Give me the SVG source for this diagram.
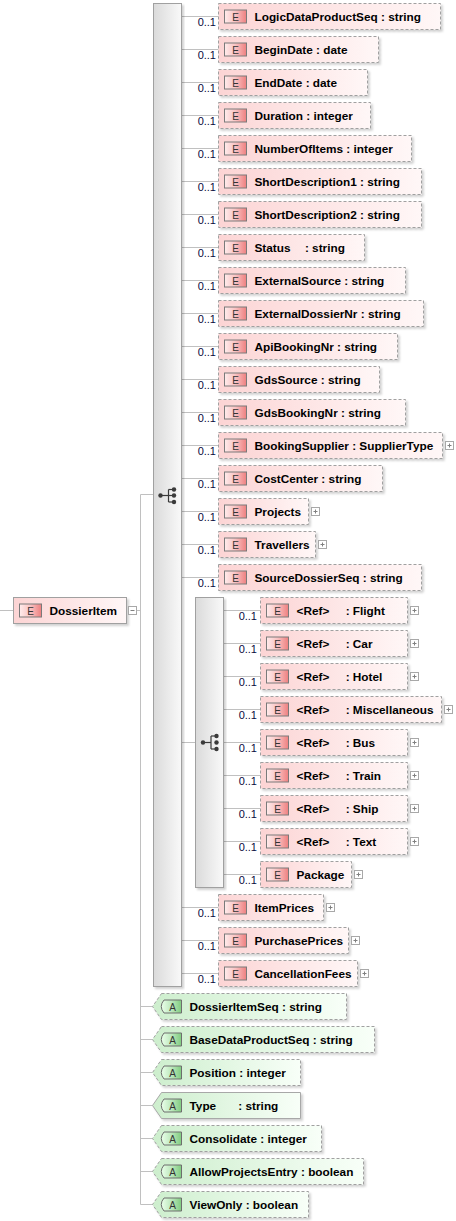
<svg xmlns="http://www.w3.org/2000/svg" width="456" height="1221" viewBox="0 0 456 1221">
<defs>
<linearGradient id="gE" x1="0" y1="0" x2="1" y2="0"><stop offset="0" stop-color="#fcd4d4"/><stop offset="1" stop-color="#fff7f7"/></linearGradient>
<linearGradient id="gA" x1="0" y1="0" x2="1" y2="0"><stop offset="0" stop-color="#cdeecd"/><stop offset="1" stop-color="#f8fff8"/></linearGradient>
<linearGradient id="gEi" x1="0" y1="0" x2="1" y2="0"><stop offset="0" stop-color="#ffecec"/><stop offset="0.5" stop-color="#f9c2c2"/><stop offset="1" stop-color="#ee7f7f"/></linearGradient>
<linearGradient id="gAi" x1="0" y1="0" x2="1" y2="0"><stop offset="0" stop-color="#eaffea"/><stop offset="0.5" stop-color="#bde8bd"/><stop offset="1" stop-color="#7fcc7f"/></linearGradient>
<linearGradient id="gS" x1="0" y1="0" x2="1" y2="0"><stop offset="0" stop-color="#dadada"/><stop offset="1" stop-color="#f9f9f9"/></linearGradient>
<filter id="sh" x="-5%" y="-10%" width="115%" height="135%"><feDropShadow dx="2" dy="2" stdDeviation="1" flood-color="#000" flood-opacity="0.18"/></filter>
</defs>
<style>
.c{stroke:#c0c0c0;stroke-width:1;fill:none}
.eb{fill:url(#gE);stroke:#a0a0a0;stroke-dasharray:3,2;filter:url(#sh)}
.es{fill:url(#gE);stroke:#a0a0a0;filter:url(#sh)}
.ab{fill:url(#gA);stroke:#a0a0a0;stroke-dasharray:3,2;filter:url(#sh)}
.as{fill:url(#gA);stroke:#a8a8a8;filter:url(#sh)}
.ei{fill:url(#gEi);stroke:#7a7a7a}
.ai{fill:url(#gAi);stroke:#6e6e6e}
.t{font-family:"Liberation Sans",Arial,sans-serif;font-weight:bold;font-size:11.8px;fill:#000}
.it{font-family:"Liberation Sans",Arial,sans-serif;font-size:10px;fill:#333;text-anchor:middle}
.m{font-family:"Liberation Sans",Arial,sans-serif;font-size:11px;fill:#0a0a40;text-anchor:end}
.pb{fill:#fff;stroke:#a8a8a8}
.pl{stroke:#808080;stroke-width:1}
.sq{fill:url(#gS);stroke:#a0a0a0;filter:url(#sh)}
.sy{stroke:#3a3a3a;stroke-width:1.2;fill:none}
.sd{fill:#3a3a3a}
</style>

<g id="connectors">
<line class="c" x1="0" y1="610.5" x2="13.5" y2="610.5"/>
<line class="c" x1="136.5" y1="610.5" x2="140.5" y2="610.5"/>
<line class="c" x1="140.5" y1="494.5" x2="140.5" y2="1204.5"/>
<line class="c" x1="140.5" y1="494.5" x2="153.5" y2="494.5"/>
<line class="c" x1="181.5" y1="16.5" x2="218.5" y2="16.5"/>
<line class="c" x1="181.5" y1="49.5" x2="218.5" y2="49.5"/>
<line class="c" x1="181.5" y1="82.5" x2="218.5" y2="82.5"/>
<line class="c" x1="181.5" y1="115.5" x2="218.5" y2="115.5"/>
<line class="c" x1="181.5" y1="148.5" x2="218.5" y2="148.5"/>
<line class="c" x1="181.5" y1="181.5" x2="218.5" y2="181.5"/>
<line class="c" x1="181.5" y1="214.5" x2="218.5" y2="214.5"/>
<line class="c" x1="181.5" y1="247.5" x2="218.5" y2="247.5"/>
<line class="c" x1="181.5" y1="280.5" x2="218.5" y2="280.5"/>
<line class="c" x1="181.5" y1="313.5" x2="218.5" y2="313.5"/>
<line class="c" x1="181.5" y1="346.5" x2="218.5" y2="346.5"/>
<line class="c" x1="181.5" y1="379.5" x2="218.5" y2="379.5"/>
<line class="c" x1="181.5" y1="412.5" x2="218.5" y2="412.5"/>
<line class="c" x1="181.5" y1="445.5" x2="218.5" y2="445.5"/>
<line class="c" x1="181.5" y1="478.5" x2="218.5" y2="478.5"/>
<line class="c" x1="181.5" y1="511.5" x2="218.5" y2="511.5"/>
<line class="c" x1="181.5" y1="544.5" x2="218.5" y2="544.5"/>
<line class="c" x1="181.5" y1="577.5" x2="218.5" y2="577.5"/>
<line class="c" x1="181.5" y1="742.5" x2="195.5" y2="742.5"/>
<line class="c" x1="181.5" y1="907.5" x2="218.5" y2="907.5"/>
<line class="c" x1="181.5" y1="940.5" x2="218.5" y2="940.5"/>
<line class="c" x1="181.5" y1="973.5" x2="218.5" y2="973.5"/>
<line class="c" x1="223.5" y1="610.5" x2="260.5" y2="610.5"/>
<line class="c" x1="223.5" y1="643.5" x2="260.5" y2="643.5"/>
<line class="c" x1="223.5" y1="676.5" x2="260.5" y2="676.5"/>
<line class="c" x1="223.5" y1="709.5" x2="260.5" y2="709.5"/>
<line class="c" x1="223.5" y1="742.5" x2="260.5" y2="742.5"/>
<line class="c" x1="223.5" y1="775.5" x2="260.5" y2="775.5"/>
<line class="c" x1="223.5" y1="808.5" x2="260.5" y2="808.5"/>
<line class="c" x1="223.5" y1="841.5" x2="260.5" y2="841.5"/>
<line class="c" x1="223.5" y1="874.5" x2="260.5" y2="874.5"/>
<line class="c" x1="140.5" y1="1006.5" x2="152.5" y2="1006.5"/>
<line class="c" x1="140.5" y1="1039.5" x2="152.5" y2="1039.5"/>
<line class="c" x1="140.5" y1="1072.5" x2="152.5" y2="1072.5"/>
<line class="c" x1="140.5" y1="1105.5" x2="152.5" y2="1105.5"/>
<line class="c" x1="140.5" y1="1138.5" x2="152.5" y2="1138.5"/>
<line class="c" x1="140.5" y1="1171.5" x2="152.5" y2="1171.5"/>
<line class="c" x1="140.5" y1="1204.5" x2="152.5" y2="1204.5"/>
</g>

<g id="DossierItem">
<rect class="es" x="13.5" y="597.5" width="113" height="26"/>
<rect class="ei" x="19.5" y="604" width="22" height="13"/>
<text class="it" x="30.5" y="614.5">E</text>
<text class="t" x="49.5" y="615">DossierItem</text>
<rect class="pb" x="128.5" y="606.5" width="8" height="8"/>
<line class="pl" x1="130.5" y1="610.5" x2="134.5" y2="610.5"/>
</g>

<g id="sequence-outer">
<rect class="sq" x="153.5" y="3.5" width="28" height="983"/>
<line class="sy" x1="160.5" y1="495.5" x2="168.5" y2="495.5"/>
<line class="sy" x1="168.5" y1="489.5" x2="168.5" y2="502"/>
<line class="sy" x1="168.5" y1="489.5" x2="173.5" y2="489.5"/>
<line class="sy" x1="168.5" y1="502" x2="173.5" y2="502"/>
<line class="sy" x1="168.5" y1="495.5" x2="173.5" y2="495.5"/>
<circle class="sd" cx="160.5" cy="495.5" r="2.2"/>
<circle class="sd" cx="174" cy="489.5" r="2.2"/>
<circle class="sd" cx="174" cy="495.5" r="2.2"/>
<circle class="sd" cx="174" cy="502" r="2.2"/>
</g>

<g id="LogicDataProductSeq"><text class="m" x="216" y="26">0..1</text><rect class="eb" x="218.5" y="3.5" width="222" height="26"/><rect class="ei" x="224.5" y="10" width="22" height="13"/><text class="it" x="235.5" y="20.5">E</text><text class="t" x="254.5" y="21">LogicDataProductSeq : string</text></g>
<g id="BeginDate"><text class="m" x="216" y="59">0..1</text><rect class="eb" x="218.5" y="36.5" width="160" height="26"/><rect class="ei" x="224.5" y="43" width="22" height="13"/><text class="it" x="235.5" y="53.5">E</text><text class="t" x="254.5" y="54">BeginDate : date</text></g>
<g id="EndDate"><text class="m" x="216" y="92">0..1</text><rect class="eb" x="218.5" y="69.5" width="149" height="26"/><rect class="ei" x="224.5" y="76" width="22" height="13"/><text class="it" x="235.5" y="86.5">E</text><text class="t" x="254.5" y="87">EndDate : date</text></g>
<g id="Duration"><text class="m" x="216" y="125">0..1</text><rect class="eb" x="218.5" y="102.5" width="152" height="26"/><rect class="ei" x="224.5" y="109" width="22" height="13"/><text class="it" x="235.5" y="119.5">E</text><text class="t" x="254.5" y="120">Duration : integer</text></g>
<g id="NumberOfItems"><text class="m" x="216" y="158">0..1</text><rect class="eb" x="218.5" y="135.5" width="193" height="26"/><rect class="ei" x="224.5" y="142" width="22" height="13"/><text class="it" x="235.5" y="152.5">E</text><text class="t" x="254.5" y="153">NumberOfItems : integer</text></g>
<g id="ShortDescription1"><text class="m" x="216" y="191">0..1</text><rect class="eb" x="218.5" y="168.5" width="203" height="26"/><rect class="ei" x="224.5" y="175" width="22" height="13"/><text class="it" x="235.5" y="185.5">E</text><text class="t" x="254.5" y="186">ShortDescription1 : string</text></g>
<g id="ShortDescription2"><text class="m" x="216" y="224">0..1</text><rect class="eb" x="218.5" y="201.5" width="203" height="26"/><rect class="ei" x="224.5" y="208" width="22" height="13"/><text class="it" x="235.5" y="218.5">E</text><text class="t" x="254.5" y="219">ShortDescription2 : string</text></g>
<g id="Status"><text class="m" x="216" y="257">0..1</text><rect class="eb" x="218.5" y="234.5" width="146" height="26"/><rect class="ei" x="224.5" y="241" width="22" height="13"/><text class="it" x="235.5" y="251.5">E</text><text class="t" x="254.5" y="252" xml:space="preserve" style="white-space:pre">Status   <tspan dx="4.5">: string</tspan></text></g>
<g id="ExternalSource"><text class="m" x="216" y="290">0..1</text><rect class="eb" x="218.5" y="267.5" width="187" height="26"/><rect class="ei" x="224.5" y="274" width="22" height="13"/><text class="it" x="235.5" y="284.5">E</text><text class="t" x="254.5" y="285">ExternalSource : string</text></g>
<g id="ExternalDossierNr"><text class="m" x="216" y="323">0..1</text><rect class="eb" x="218.5" y="300.5" width="205" height="26"/><rect class="ei" x="224.5" y="307" width="22" height="13"/><text class="it" x="235.5" y="317.5">E</text><text class="t" x="254.5" y="318">ExternalDossierNr : string</text></g>
<g id="ApiBookingNr"><text class="m" x="216" y="356">0..1</text><rect class="eb" x="218.5" y="333.5" width="179" height="26"/><rect class="ei" x="224.5" y="340" width="22" height="13"/><text class="it" x="235.5" y="350.5">E</text><text class="t" x="254.5" y="351">ApiBookingNr : string</text></g>
<g id="GdsSource"><text class="m" x="216" y="389">0..1</text><rect class="eb" x="218.5" y="366.5" width="161" height="26"/><rect class="ei" x="224.5" y="373" width="22" height="13"/><text class="it" x="235.5" y="383.5">E</text><text class="t" x="254.5" y="384">GdsSource : string</text></g>
<g id="GdsBookingNr"><text class="m" x="216" y="422">0..1</text><rect class="eb" x="218.5" y="399.5" width="187" height="26"/><rect class="ei" x="224.5" y="406" width="22" height="13"/><text class="it" x="235.5" y="416.5">E</text><text class="t" x="254.5" y="417">GdsBookingNr : string</text></g>
<g id="BookingSupplier"><text class="m" x="216" y="455">0..1</text><rect class="eb" x="218.5" y="432.5" width="224" height="26"/><rect class="ei" x="224.5" y="439" width="22" height="13"/><text class="it" x="235.5" y="449.5">E</text><text class="t" x="254.5" y="450">BookingSupplier : SupplierType</text><rect class="pb" x="445.5" y="441.5" width="8" height="8"/><line class="pl" x1="447.5" y1="445.5" x2="451.5" y2="445.5"/><line class="pl" x1="449.5" y1="443.5" x2="449.5" y2="447.5"/></g>
<g id="CostCenter"><text class="m" x="216" y="488">0..1</text><rect class="eb" x="218.5" y="465.5" width="164" height="26"/><rect class="ei" x="224.5" y="472" width="22" height="13"/><text class="it" x="235.5" y="482.5">E</text><text class="t" x="254.5" y="483">CostCenter : string</text></g>
<g id="Projects"><text class="m" x="216" y="521">0..1</text><rect class="eb" x="218.5" y="498.5" width="90" height="26"/><rect class="ei" x="224.5" y="505" width="22" height="13"/><text class="it" x="235.5" y="515.5">E</text><text class="t" x="254.5" y="516">Projects</text><rect class="pb" x="311.5" y="507.5" width="8" height="8"/><line class="pl" x1="313.5" y1="511.5" x2="317.5" y2="511.5"/><line class="pl" x1="315.5" y1="509.5" x2="315.5" y2="513.5"/></g>
<g id="Travellers"><text class="m" x="216" y="554">0..1</text><rect class="eb" x="218.5" y="531.5" width="97" height="26"/><rect class="ei" x="224.5" y="538" width="22" height="13"/><text class="it" x="235.5" y="548.5">E</text><text class="t" x="254.5" y="549">Travellers</text><rect class="pb" x="318.5" y="540.5" width="8" height="8"/><line class="pl" x1="320.5" y1="544.5" x2="324.5" y2="544.5"/><line class="pl" x1="322.5" y1="542.5" x2="322.5" y2="546.5"/></g>
<g id="SourceDossierSeq"><text class="m" x="216" y="587">0..1</text><rect class="eb" x="218.5" y="564.5" width="203" height="26"/><rect class="ei" x="224.5" y="571" width="22" height="13"/><text class="it" x="235.5" y="581.5">E</text><text class="t" x="254.5" y="582">SourceDossierSeq : string</text></g>

<g id="sequence-inner">
<rect class="sq" x="195.5" y="597.5" width="28" height="290"/>
<line class="sy" x1="203" y1="742.5" x2="211" y2="742.5"/>
<line class="sy" x1="211" y1="736" x2="211" y2="749"/>
<line class="sy" x1="211" y1="736" x2="216" y2="736"/>
<line class="sy" x1="211" y1="749" x2="216" y2="749"/>
<circle class="sd" cx="203" cy="742.5" r="2.2"/>
<circle class="sd" cx="216.5" cy="736" r="2.2"/>
<circle class="sd" cx="216.5" cy="742.5" r="2.2"/>
<circle class="sd" cx="216.5" cy="749" r="2.2"/>
</g>

<g id="Flight"><text class="m" x="257" y="620">0..1</text><rect class="eb" x="260.5" y="597.5" width="147" height="26"/><rect class="ei" x="266.5" y="604" width="22" height="13"/><text class="it" x="277.5" y="614.5">E</text><text class="t" x="296.5" y="615" xml:space="preserve" style="white-space:pre">&lt;Ref&gt;   <tspan dx="6.5">: Flight</tspan></text><rect class="pb" x="410.5" y="606.5" width="8" height="8"/><line class="pl" x1="412.5" y1="610.5" x2="416.5" y2="610.5"/><line class="pl" x1="414.5" y1="608.5" x2="414.5" y2="612.5"/></g>
<g id="Car"><text class="m" x="257" y="653">0..1</text><rect class="eb" x="260.5" y="630.5" width="147" height="26"/><rect class="ei" x="266.5" y="637" width="22" height="13"/><text class="it" x="277.5" y="647.5">E</text><text class="t" x="296.5" y="648" xml:space="preserve" style="white-space:pre">&lt;Ref&gt;   <tspan dx="6.5">: Car</tspan></text><rect class="pb" x="410.5" y="639.5" width="8" height="8"/><line class="pl" x1="412.5" y1="643.5" x2="416.5" y2="643.5"/><line class="pl" x1="414.5" y1="641.5" x2="414.5" y2="645.5"/></g>
<g id="Hotel"><text class="m" x="257" y="686">0..1</text><rect class="eb" x="260.5" y="663.5" width="147" height="26"/><rect class="ei" x="266.5" y="670" width="22" height="13"/><text class="it" x="277.5" y="680.5">E</text><text class="t" x="296.5" y="681" xml:space="preserve" style="white-space:pre">&lt;Ref&gt;   <tspan dx="6.5">: Hotel</tspan></text><rect class="pb" x="410.5" y="672.5" width="8" height="8"/><line class="pl" x1="412.5" y1="676.5" x2="416.5" y2="676.5"/><line class="pl" x1="414.5" y1="674.5" x2="414.5" y2="678.5"/></g>
<g id="Miscellaneous"><text class="m" x="257" y="719">0..1</text><rect class="eb" x="260.5" y="696.5" width="181" height="26"/><rect class="ei" x="266.5" y="703" width="22" height="13"/><text class="it" x="277.5" y="713.5">E</text><text class="t" x="296.5" y="714" xml:space="preserve" style="white-space:pre">&lt;Ref&gt;   <tspan dx="6.5">: Miscellaneous</tspan></text><rect class="pb" x="444.5" y="705.5" width="8" height="8"/><line class="pl" x1="446.5" y1="709.5" x2="450.5" y2="709.5"/><line class="pl" x1="448.5" y1="707.5" x2="448.5" y2="711.5"/></g>
<g id="Bus"><text class="m" x="257" y="752">0..1</text><rect class="eb" x="260.5" y="729.5" width="147" height="26"/><rect class="ei" x="266.5" y="736" width="22" height="13"/><text class="it" x="277.5" y="746.5">E</text><text class="t" x="296.5" y="747" xml:space="preserve" style="white-space:pre">&lt;Ref&gt;   <tspan dx="6.5">: Bus</tspan></text><rect class="pb" x="410.5" y="738.5" width="8" height="8"/><line class="pl" x1="412.5" y1="742.5" x2="416.5" y2="742.5"/><line class="pl" x1="414.5" y1="740.5" x2="414.5" y2="744.5"/></g>
<g id="Train"><text class="m" x="257" y="785">0..1</text><rect class="eb" x="260.5" y="762.5" width="147" height="26"/><rect class="ei" x="266.5" y="769" width="22" height="13"/><text class="it" x="277.5" y="779.5">E</text><text class="t" x="296.5" y="780" xml:space="preserve" style="white-space:pre">&lt;Ref&gt;   <tspan dx="6.5">: Train</tspan></text><rect class="pb" x="410.5" y="771.5" width="8" height="8"/><line class="pl" x1="412.5" y1="775.5" x2="416.5" y2="775.5"/><line class="pl" x1="414.5" y1="773.5" x2="414.5" y2="777.5"/></g>
<g id="Ship"><text class="m" x="257" y="818">0..1</text><rect class="eb" x="260.5" y="795.5" width="147" height="26"/><rect class="ei" x="266.5" y="802" width="22" height="13"/><text class="it" x="277.5" y="812.5">E</text><text class="t" x="296.5" y="813" xml:space="preserve" style="white-space:pre">&lt;Ref&gt;   <tspan dx="6.5">: Ship</tspan></text><rect class="pb" x="410.5" y="804.5" width="8" height="8"/><line class="pl" x1="412.5" y1="808.5" x2="416.5" y2="808.5"/><line class="pl" x1="414.5" y1="806.5" x2="414.5" y2="810.5"/></g>
<g id="Text"><text class="m" x="257" y="851">0..1</text><rect class="eb" x="260.5" y="828.5" width="147" height="26"/><rect class="ei" x="266.5" y="835" width="22" height="13"/><text class="it" x="277.5" y="845.5">E</text><text class="t" x="296.5" y="846" xml:space="preserve" style="white-space:pre">&lt;Ref&gt;   <tspan dx="6.5">: Text</tspan></text><rect class="pb" x="410.5" y="837.5" width="8" height="8"/><line class="pl" x1="412.5" y1="841.5" x2="416.5" y2="841.5"/><line class="pl" x1="414.5" y1="839.5" x2="414.5" y2="843.5"/></g>
<g id="Package"><text class="m" x="257" y="884">0..1</text><rect class="eb" x="260.5" y="861.5" width="91" height="26"/><rect class="ei" x="266.5" y="868" width="22" height="13"/><text class="it" x="277.5" y="878.5">E</text><text class="t" x="296.5" y="879">Package</text><rect class="pb" x="354.5" y="870.5" width="8" height="8"/><line class="pl" x1="356.5" y1="874.5" x2="360.5" y2="874.5"/><line class="pl" x1="358.5" y1="872.5" x2="358.5" y2="876.5"/></g>

<g id="ItemPrices"><text class="m" x="216" y="917">0..1</text><rect class="eb" x="218.5" y="894.5" width="105" height="26"/><rect class="ei" x="224.5" y="901" width="22" height="13"/><text class="it" x="235.5" y="911.5">E</text><text class="t" x="254.5" y="912">ItemPrices</text><rect class="pb" x="326.5" y="903.5" width="8" height="8"/><line class="pl" x1="328.5" y1="907.5" x2="332.5" y2="907.5"/><line class="pl" x1="330.5" y1="905.5" x2="330.5" y2="909.5"/></g>
<g id="PurchasePrices"><text class="m" x="216" y="950">0..1</text><rect class="eb" x="218.5" y="927.5" width="130" height="26"/><rect class="ei" x="224.5" y="934" width="22" height="13"/><text class="it" x="235.5" y="944.5">E</text><text class="t" x="254.5" y="945">PurchasePrices</text><rect class="pb" x="351.5" y="936.5" width="8" height="8"/><line class="pl" x1="353.5" y1="940.5" x2="357.5" y2="940.5"/><line class="pl" x1="355.5" y1="938.5" x2="355.5" y2="942.5"/></g>
<g id="CancellationFees"><text class="m" x="216" y="983">0..1</text><rect class="eb" x="218.5" y="960.5" width="139" height="26"/><rect class="ei" x="224.5" y="967" width="22" height="13"/><text class="it" x="235.5" y="977.5">E</text><text class="t" x="254.5" y="978">CancellationFees</text><rect class="pb" x="360.5" y="969.5" width="8" height="8"/><line class="pl" x1="362.5" y1="973.5" x2="366.5" y2="973.5"/><line class="pl" x1="364.5" y1="971.5" x2="364.5" y2="975.5"/></g>

<g id="attr-DossierItemSeq"><path class="ab" d="M161.5,993.5 H346.5 V1019.5 H161.5 L152.5,1006.5 Z"/><path class="ai" d="M164,1000 H181.5 V1013 H164 Q158.5,1006.5 164,1000 Z"/><text class="it" x="172.5" y="1010.5">A</text><text class="t" x="189.5" y="1011">DossierItemSeq : string</text></g>
<g id="attr-BaseDataProductSeq"><path class="ab" d="M161.5,1026.5 H374.5 V1052.5 H161.5 L152.5,1039.5 Z"/><path class="ai" d="M164,1033 H181.5 V1046 H164 Q158.5,1039.5 164,1033 Z"/><text class="it" x="172.5" y="1043.5">A</text><text class="t" x="189.5" y="1044">BaseDataProductSeq : string</text></g>
<g id="attr-Position"><path class="ab" d="M161.5,1059.5 H300.5 V1085.5 H161.5 L152.5,1072.5 Z"/><path class="ai" d="M164,1066 H181.5 V1079 H164 Q158.5,1072.5 164,1066 Z"/><text class="it" x="172.5" y="1076.5">A</text><text class="t" x="189.5" y="1077">Position : integer</text></g>
<g id="attr-Type"><path class="as" d="M161.5,1092.5 H300.5 V1118.5 H161.5 L152.5,1105.5 Z"/><path class="ai" d="M164,1099 H181.5 V1112 H164 Q158.5,1105.5 164,1099 Z"/><text class="it" x="172.5" y="1109.5">A</text><text class="t" x="189.5" y="1110" xml:space="preserve" style="white-space:pre">Type      <tspan dx="2.5">: string</tspan></text></g>
<g id="attr-Consolidate"><path class="ab" d="M161.5,1125.5 H321.5 V1151.5 H161.5 L152.5,1138.5 Z"/><path class="ai" d="M164,1132 H181.5 V1145 H164 Q158.5,1138.5 164,1132 Z"/><text class="it" x="172.5" y="1142.5">A</text><text class="t" x="189.5" y="1143">Consolidate : integer</text></g>
<g id="attr-AllowProjectsEntry"><path class="ab" d="M161.5,1158.5 H363.5 V1184.5 H161.5 L152.5,1171.5 Z"/><path class="ai" d="M164,1165 H181.5 V1178 H164 Q158.5,1171.5 164,1165 Z"/><text class="it" x="172.5" y="1175.5">A</text><text class="t" x="189.5" y="1176">AllowProjectsEntry : boolean</text></g>
<g id="attr-ViewOnly"><path class="ab" d="M161.5,1191.5 H308.5 V1217.5 H161.5 L152.5,1204.5 Z"/><path class="ai" d="M164,1198 H181.5 V1211 H164 Q158.5,1204.5 164,1198 Z"/><text class="it" x="172.5" y="1208.5">A</text><text class="t" x="189.5" y="1209">ViewOnly : boolean</text></g>
</svg>
